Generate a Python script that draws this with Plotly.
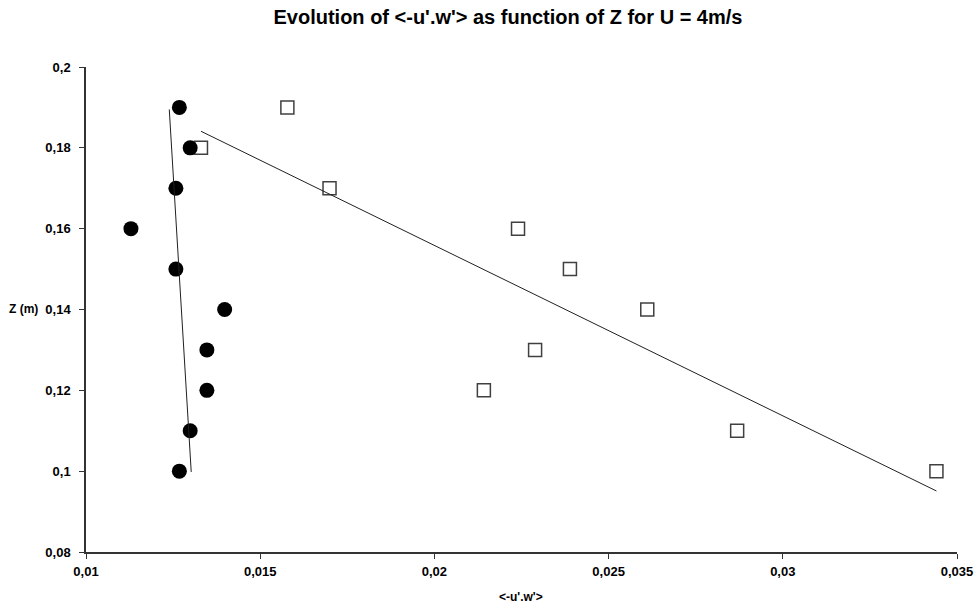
import plotly.graph_objects as go

# heights (m)
z = [0.19, 0.18, 0.17, 0.16, 0.15, 0.14, 0.13, 0.12, 0.11, 0.10]

# <-u'.w'> values
uw_circles = [0.01268, 0.01299, 0.01258, 0.01129, 0.01258, 0.01398, 0.01347, 0.01347, 0.01299, 0.01268]
uw_squares = [0.01578, 0.01330, 0.01699, 0.02240, 0.02389, 0.02611, 0.02289, 0.02142, 0.02869, 0.03441]

# trend line end points
trend_circles_x = [0.01239, 0.01302]
trend_circles_z = [0.1895, 0.0998]
trend_squares_x = [0.01330, 0.03441]
trend_squares_z = [0.1841, 0.0951]

x_ticks = [0.01, 0.015, 0.02, 0.025, 0.03, 0.035]
x_ticktext = ["0,01", "0,015", "0,02", "0,025", "0,03", "0,035"]
y_ticks = [0.08, 0.10, 0.12, 0.14, 0.16, 0.18, 0.20]
y_ticktext = ["0,08", "0,1", "0,12", "0,14", "0,16", "0,18", "0,2"]

FONT = "Liberation Sans, Arial, sans-serif"

fig = go.Figure()

# squares first so the circles sit on top of them
fig.add_trace(
    go.Scatter(
        x=uw_squares,
        y=z,
        mode="markers",
        marker=dict(symbol="square", size=13, color="white", line=dict(color="#404040", width=1.5)),
        cliponaxis=False,
    )
)
fig.add_trace(
    go.Scatter(
        x=uw_circles,
        y=z,
        mode="markers",
        marker=dict(symbol="circle", size=15, color="black", line=dict(width=0)),
        cliponaxis=False,
    )
)

# linear trend lines
fig.add_trace(
    go.Scatter(x=trend_circles_x, y=trend_circles_z, mode="lines", line=dict(color="#202020", width=1))
)
fig.add_trace(
    go.Scatter(x=trend_squares_x, y=trend_squares_z, mode="lines", line=dict(color="#202020", width=1))
)

axis_common = dict(
    showgrid=False,
    zeroline=False,
    showline=True,
    linecolor="#333333",
    linewidth=1.5,
    ticks="outside",
    ticklen=5,
    tickwidth=1,
    tickcolor="#333333",
    automargin=False,
    tickfont=dict(family=FONT, size=13, color="black", weight="bold"),
)

fig.update_layout(
    width=975,
    height=606,
    margin=dict(l=86, r=18, t=67, b=54),
    paper_bgcolor="white",
    plot_bgcolor="white",
    showlegend=False,
    title=dict(
        text="Evolution of &lt;-u'.w'&gt; as function of Z for U = 4m/s",
        x=0.521,
        xref="container",
        xanchor="center",
        y=0.972,
        yref="container",
        yanchor="middle",
        font=dict(family=FONT, size=20, color="black", weight="bold"),
    ),
    xaxis=dict(range=[0.01, 0.035], tickvals=x_ticks, ticktext=x_ticktext,
               ticklabelstandoff=2, **axis_common),
    yaxis=dict(range=[0.08, 0.2], tickvals=y_ticks, ticktext=y_ticktext,
               ticklabelstandoff=6, **axis_common),
)

# axis labels, placed like the original (the Z label is horizontal)
fig.add_annotation(
    text="Z (m)", xref="paper", yref="paper", x=-0.0718, y=0.501,
    xanchor="center", yanchor="middle",
    showarrow=False, font=dict(family=FONT, size=12, color="black", weight="bold"),
)
fig.add_annotation(
    text="&lt;-u'.w'&gt;", xref="paper", yref="paper", x=0.499, y=-0.092,
    xanchor="center", yanchor="middle",
    showarrow=False, font=dict(family=FONT, size=12, color="black", weight="bold"),
)

# drop the browser's default 8px body margin so the figure sits at the top-left corner
fig.write_html(
    "out.html",
    config={"displayModeBar": False},
    post_script="document.body.style.margin = '0';",
)
